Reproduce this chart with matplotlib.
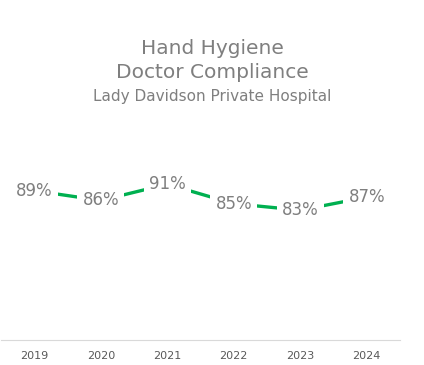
import matplotlib
matplotlib.use('agg')
import matplotlib.pyplot as plt

years = ['2019', '2020', '2021', '2022', '2023', '2024']
compliance = [89, 86, 91, 85, 83, 87]
labels = ['89%', '86%', '91%', '85%', '83%', '87%']

fig = plt.figure(figsize=(4.24, 3.65), dpi=100)
ax = fig.add_axes([1 / 424, 25 / 365, 399 / 424, 185 / 365])

x = list(range(len(years)))
ax.plot(x, compliance, color='#00B050', lw=2.4, solid_capstyle='butt', zorder=1)
for xi, v, lab in zip(x, compliance, labels):
    ax.text(xi, v, lab, ha='center', va='center', fontsize=12, color='#7f7f7f',
            zorder=3, bbox=dict(boxstyle='square,pad=0.3', fc='white', ec='none'))

ax.set_xlim(-0.5, len(years) - 0.5)
ax.set_ylim(43, 100)
ax.set_xticks(x)
ax.set_xticklabels(years, fontsize=8, color='#595959')
ax.tick_params(axis='x', length=0, pad=8)
ax.set_yticks([])
for s in ['top', 'right', 'left']:
    ax.spines[s].set_visible(False)
ax.spines['bottom'].set_color('#d9d9d9')

fig.text(0.5, 1 - 48 / 365, 'Hand Hygiene', ha='center', va='center', fontsize=14.5, color='#7f7f7f')
fig.text(0.5, 1 - 73 / 365, 'Doctor Compliance', ha='center', va='center', fontsize=14.5, color='#7f7f7f')
fig.text(0.5, 1 - 97 / 365, 'Lady Davidson Private Hospital', ha='center', va='center', fontsize=11, color='#7f7f7f')

fig.savefig('out.png', dpi=100)
